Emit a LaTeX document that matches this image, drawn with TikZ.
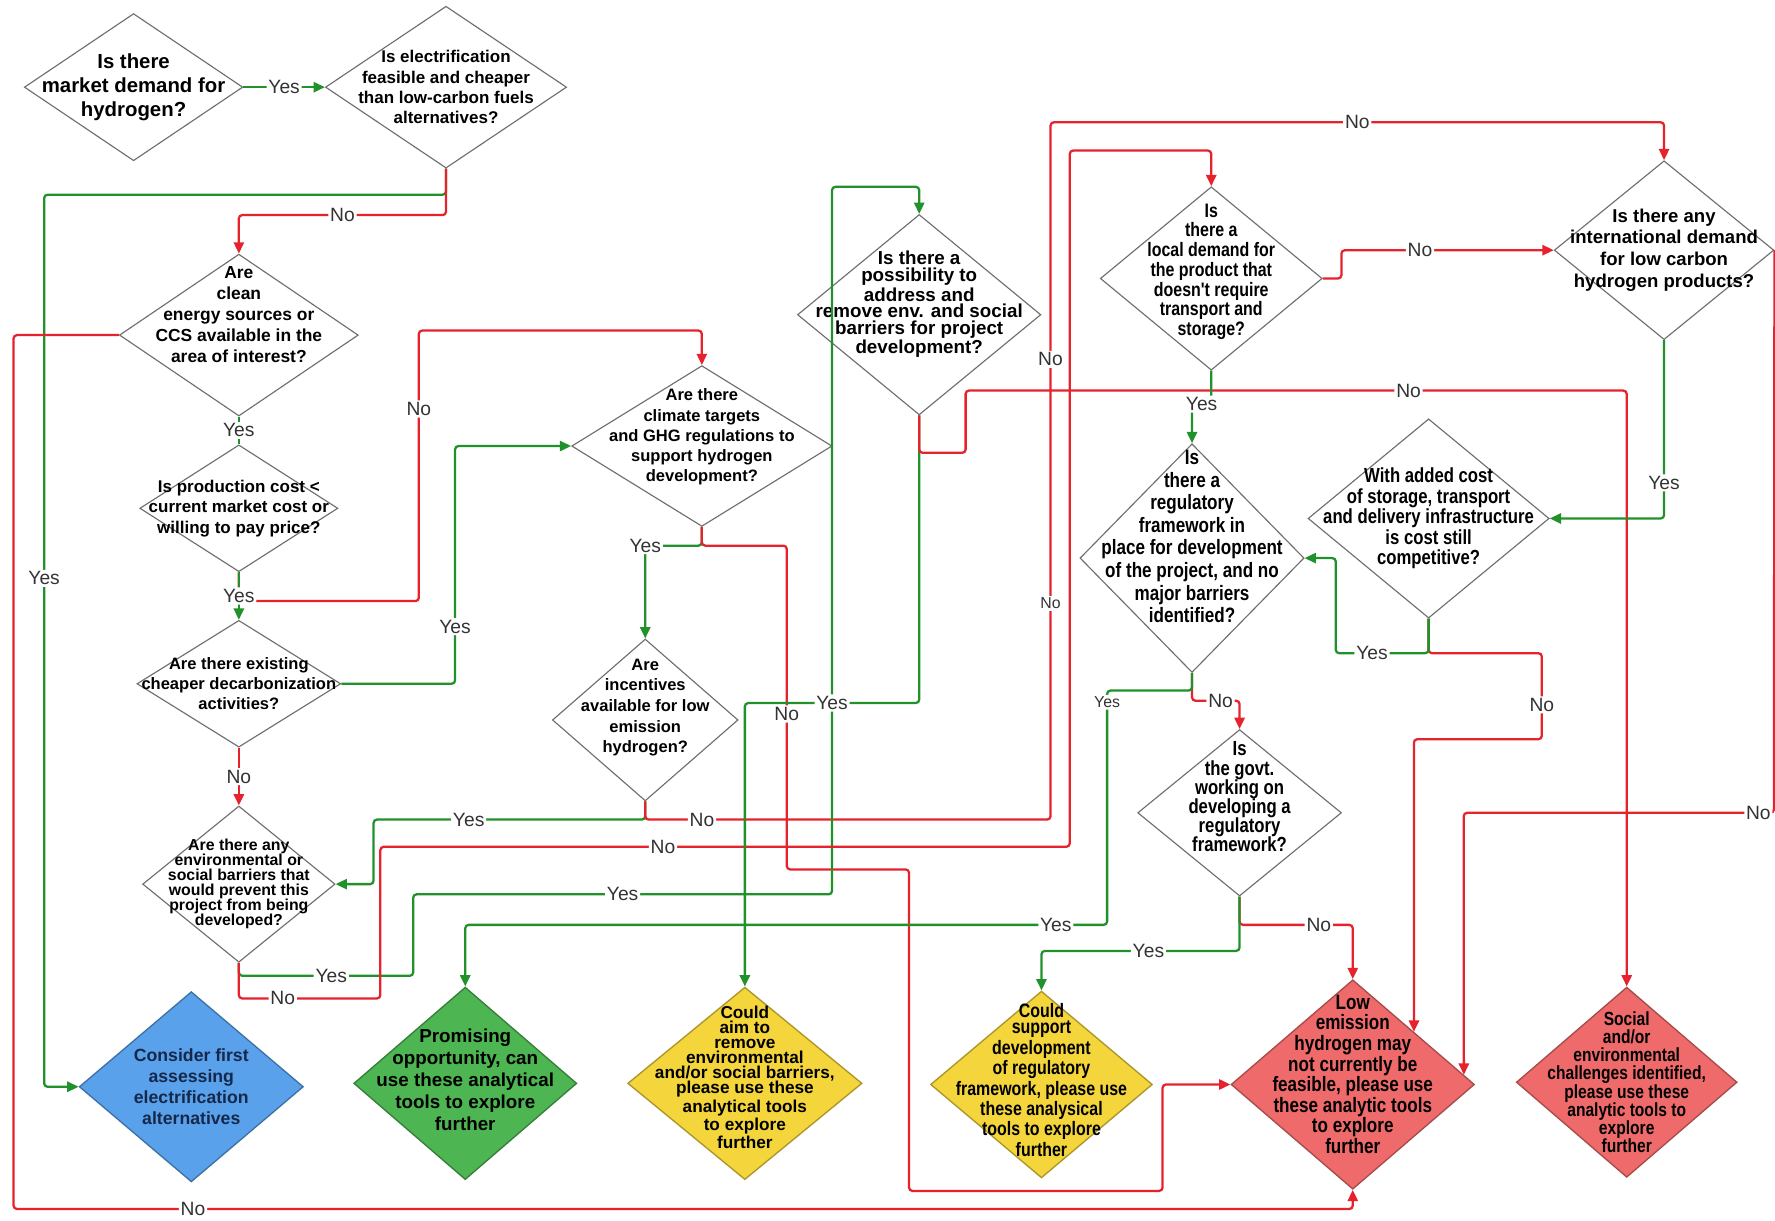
\documentclass[tikz,border=0pt]{standalone}
\usepackage{fontspec}
\setmainfont{Liberation Sans}
\newfontfamily\narrowsans{Liberation Sans}[FakeStretch=0.82]
\usepackage{tikz}
\usetikzlibrary{shapes.geometric,arrows.meta}
\definecolor{qline}{HTML}{6E6E6E}
\definecolor{yesgreen}{HTML}{21912B}
\definecolor{nored}{HTML}{E6232C}
\definecolor{elecblue}{HTML}{5AA1EC}
\definecolor{elecnavy}{HTML}{15284A}
\definecolor{promgreen}{HTML}{4DB551}
\definecolor{tryyellow}{HTML}{F4D63C}
\definecolor{stopred}{HTML}{EF6B6B}
\definecolor{labgray}{HTML}{333333}
\tikzset{
  q/.style={diamond,draw=qline,fill=white,inner sep=0pt,line width=0.5pt},
  qs/.style 2 args={minimum width=#1*0.5pt,minimum height=#2*0.5pt},
  qt/.style 2 args={align=center,inner sep=0pt,font=\bfseries\fontsize{#1}{#2}\selectfont},
  qn/.style 2 args={align=center,inner sep=0pt,font=\narrowsans\bfseries\fontsize{#1}{#2}\selectfont},
  endq/.style={diamond,inner sep=0pt,line width=0.6pt},
  yesl/.style={draw=yesgreen,line width=1pt,rounded corners=1.5pt,-{Triangle[length=5pt,width=4.5pt]}},
  nol/.style={draw=nored,line width=1pt,rounded corners=1.5pt,-{Triangle[length=5pt,width=4.5pt]}},
  lab/.style={fill=white,inner sep=0.8pt,text=labgray,font=\fontsize{8.5}{9}\selectfont},
  labs/.style={lab,font=\fontsize{7}{8}\selectfont},
}
\begin{document}
\begin{tikzpicture}[x=0.5pt,y=-0.5pt]
  \useasboundingbox (0,0) rectangle (1568,1078);
  \fill[white] (0,0) rectangle (1568,1078);
  \clip (0,0) rectangle (1568,1078);

  % questions
  \node[q,qs={193}{130},label={[qt={9}{10.5}]center:{Is there\\market demand for\\hydrogen?}}] (d1) at (118,77) {};
  \node[q,qs={213}{143},label={[qt={7.5}{9}]center:{Is electrification\\feasible and cheaper\\than low-carbon fuels\\alternatives?}}] (d2) at (394,77) {};
  \node[q,qs={211}{143},label={[qt={7.7}{9.3},yshift=9pt]center:{Are\\clean\\energy sources or\\CCS available in the\\area of interest?}}] (d3) at (211,296) {};
  \node[q,qs={175}{112},label={[qt={7.5}{9}]center:{Is production cost <\\current market cost or\\willing to pay price?}}] (d4) at (211,449) {};
  \node[q,qs={180}{112},label={[qt={7.3}{8.8}]center:{Are there existing\\cheaper decarbonization\\activities?}}] (d5) at (211,604) {};
  \node[q,qs={230}{142},label={[qt={7.3}{8.9},yshift=4pt]center:{Are there\\climate targets\\and GHG regulations to\\support hydrogen\\development?}}] (d6) at (620,394) {};
  \node[q,qs={170}{138},label={[qt={7}{6.6}]center:{Are there any\\environmental or\\social barriers that\\would prevent this\\project from being\\developed?}}] (d7) at (211,781) {};
  \node[q,qs={164}{143},label={[qt={7.3}{9.1},yshift=5.5pt]center:{Are\\incentives\\available for low\\emission\\hydrogen?}}] (d8) at (570,636) {};
  \node[q,qs={215}{177},label={[qt={8.3}{7.3},yshift=4.5pt]center:{Is there a\\possibility to\\address and\\remove env. and social\\barriers for project\\development?}}] (d9) at (812,278) {};
  \node[q,qs={196}{162},label={[qn={8.6}{8.7},yshift=3pt]center:{Is\\there a\\local demand for\\the product that\\doesn't require\\transport and\\storage?}}] (d10) at (1070,246) {};
  \node[q,qs={194}{158},label={[qt={8.2}{9.7}]center:{Is there any\\international demand\\for low carbon\\hydrogen products?}}] (intl) at (1470,221) {};
  \node[q,qs={198}{202},label={[qn={9.2}{10},yshift=9.5pt]center:{Is\\there a\\regulatory\\framework in\\place for development\\of the project, and no\\major barriers\\identified?}}] (d11) at (1053,493) {};
  \node[q,qs={213}{176},label={[qn={9}{9}]center:{With added cost\\of storage, transport\\and delivery infrastructure\\is cost still\\competitive?}}] (d12) at (1262,458) {};
  \node[q,qs={180}{147},label={[qn={9}{8.5},yshift=7pt]center:{Is\\the govt.\\working on\\developing a\\regulatory\\framework?}}] (d13) at (1095,718) {};

  % outcomes
  \node[endq,fill=elecblue,draw=elecblue!70!black,qs={198}{168},label={[qt={7.8}{9.2},text=elecnavy]center:{Consider first\\assessing\\electrification\\alternatives}}] (elec) at (169,960) {};
  \node[endq,fill=promgreen,draw=promgreen!70!black,qs={197}{170},label={[qt={8.3}{9.75},yshift=1.5pt]center:{Promising\\opportunity, can\\use these analytical\\tools to explore\\further}}] (prom) at (411,957) {};
  \node[endq,fill=tryyellow,draw=tryyellow!70!black,qs={207}{170},label={[qt={7.6}{6.7},yshift=2.7pt]center:{Could\\aim to\\remove\\environmental\\and/or social barriers,\\please use these\\analytical tools\\to explore\\further}}] (remv) at (658,957) {};
  \node[endq,fill=tryyellow,draw=tryyellow!70!black,qs={196}{165},label={[qn={8.6}{7.1},yshift=2pt]center:{Could\\support\\development\\of regulatory\\framework, please use\\these analysical\\tools to explore\\further}}] (supp) at (920,958) {};
  \node[endq,fill=stopred,draw=stopred!70!black,qs={215}{185},label={[qn={9.2}{9.1},yshift=4.5pt]center:{Low\\emission\\hydrogen may\\not currently be\\feasible, please use\\these analytic tools\\to explore\\further}}] (lowe) at (1195,958) {};
  \node[endq,fill=stopred,draw=stopred!70!black,qs={195}{168},label={[qn={8.4}{8}]center:{Social\\and/or\\environmental\\challenges identified,\\please use these\\analytic tools to\\explore\\further}}] (social) at (1437,956) {};

  % connectors
  \draw[yesl] (d1.east) -- node[lab]{Yes} (d2.west);
  \draw[yesl] (d2.south) -- (394,172) -- (39,172) -- node[lab,pos=.43]{Yes} (39,960) -- (elec.west);
  \draw[nol] (d2.south) -- (394,190) -- node[lab]{No} (211,190) -- (d3.north);
  \draw[nol] (d3.west) -- (12,296) -- (12,1068) -- node[lab,pos=.134]{No} (1195,1068) -- (lowe.south);
  \draw[draw=yesgreen,line width=1pt] (d3.south) -- node[lab]{Yes} (d4.north);
  \draw[nol] (d4.south) -- (211,531) -- (370,531) -- node[lab,pos=.71]{No} (370,292) -- (620,292) -- (d6.north);
  \draw[yesl] (d4.south) -- node[lab]{Yes} (d5.north);
  \draw[yesl] (d5.east) -- (402,604) -- node[lab,pos=.24]{Yes} (402,394) -- (d6.west);
  \draw[nol] (d5.south) -- node[lab]{No} (d7.north);
  \draw[yesl] (d6.south) -- (620,482) -- node[lab,pos=1]{Yes} (570,482) -- (d8.north);
  \draw[nol] (d6.south) -- (620,482) -- (695,482) -- node[lab,pos=.52]{No} (695,768) -- (803,768) -- (803,1052) -- (1027,1052) -- (1027,958) -- (lowe.west);
  \draw[yesl] (d8.south) -- (570,724) -- node[lab,pos=.65]{Yes} (330,724) -- (330,781) -- (d7.east);
  \draw[nol] (d8.south) -- (570,724) -- node[lab,pos=.14]{No} (928,724) -- node[labs,pos=.31]{No} node[lab,pos=.66]{No} (928,108) -- node[lab]{No} (1470,108) -- (intl.north);
  \draw[yesl] (d7.south) -- (211,862) -- node[lab,pos=.53]{Yes} (365,862) -- (365,790) -- node[lab]{Yes} (735,790) -- (735,165) -- (812,165) -- (d9.north);
  \draw[nol] (d7.south) -- (211,882) -- node[lab,pos=.31]{No} (336,882) -- (336,748) -- node[lab,pos=.41]{No} (945,748) -- (945,133) -- (1070,133) -- (d10.north);
  \draw[yesl] (d9.south) -- (812,621) -- node[lab]{Yes} (658,621) -- (remv.north);
  \draw[nol] (d9.south) -- (812,400) -- (853,400) -- (853,345) -- node[lab,pos=.67]{No} (1437,345) -- (social.north);
  \draw[nol] (d10.east) -- (1185,246) -- (1185,221) -- node[lab,pos=.37]{No} (intl.west);
  \draw[yesl] (d10.south) -- (1070,357) -- node[lab]{Yes} (1053,357) -- (d11.north);
  \draw[yesl] (intl.south) -- node[lab,pos=.8]{Yes} (1470,458) -- (d12.east);
  \draw[nol] (intl.east) -- (1567,718) -- node[lab,pos=.05]{No} (1293,718) -- (lowe.5);
  \draw[nol] (d12.south) -- (1262,577) -- (1362,577) -- node[lab,pos=.6]{No} (1362,653) -- (1249,653) -- (lowe.north east);
  \draw[yesl] (d12.south) -- (1262,577) -- node[lab,pos=.61]{Yes} (1180,577) -- (1180,493) -- (d11.east);
  \draw[nol] (d11.south) -- (1053,619) -- node[lab,pos=.6]{No} (1095,619) -- (d13.north);
  \draw[yesl] (d11.south) -- (1053,610) -- (978,610) -- node[labs,pos=.05]{Yes} (978,817) -- node[lab,pos=.08]{Yes} (411,817) -- (prom.north);
  \draw[nol] (d13.south) -- (1095,817) -- node[lab,pos=.7]{No} (1195,817) -- (lowe.north);
  \draw[yesl] (d13.south) -- (1095,840) -- node[lab,pos=.46]{Yes} (920,840) -- (supp.north);
\end{tikzpicture}
\end{document}
